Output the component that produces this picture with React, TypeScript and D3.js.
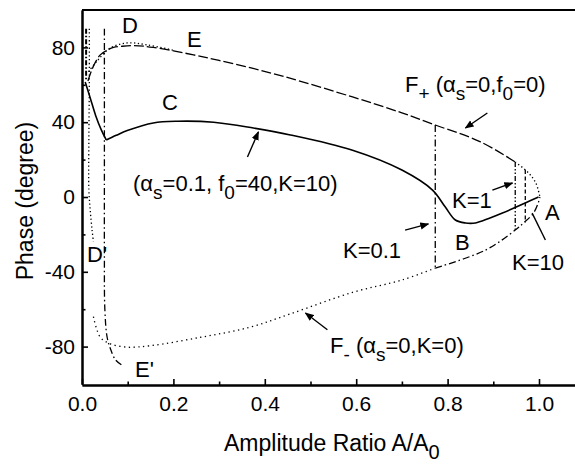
import React, { useRef, useEffect } from 'react'
import { scaleLinear, select, axisBottom, axisLeft, line, curveCatmullRom, format } from 'd3'

// curve C  (alpha_s=0.1, f0=40, K=10), solid: falling part then rising part
const cFallAmp = [0.007, 0.018, 0.03, 0.042, 0.053]
const cFallPhase = [61.5, 53, 43.5, 36, 30.5]
const cAmp = [0.053, 0.075, 0.099, 0.156, 0.209, 0.288, 0.375, 0.456, 0.592, 0.70, 0.767, 0.795, 0.817, 0.839, 0.861, 0.89, 0.92, 0.97, 0.999]
const cPhase = [30.5, 33, 35.5, 39.6, 40.5, 40, 36.9, 33.2, 25, 14.4, 3.7, -5.4, -12.3, -13.9, -13.9, -11.5, -8.6, -3.2, 0]

// F+ upper branch, dashed
const fPlusAmp = [0.013, 0.025, 0.04, 0.056, 0.069, 0.084, 0.112, 0.156, 0.244, 0.30, 0.37, 0.445, 0.592, 0.70, 0.773, 0.872, 0.948]
const fPlusPhase = [62, 70, 76, 78.6, 80, 80.5, 81, 80, 76, 73, 69, 64.2, 53.5, 45, 38.5, 29.5, 18.7]

// nose of F+, dotted
const noseAmp = [0.948, 0.975, 0.993, 1.002]
const nosePhase = [18.7, 13.4, 7.5, 0]

// D branch, dotted
const dTopAmp = [0.014, 0.034, 0.062, 0.099, 0.143, 0.2]
const dTopPhase = [67, 73, 79.7, 82.4, 81.3, 78.5]
const dVertAmp = [0.016, 0.016, 0.015, 0.015, 0.018, 0.022, 0.025]
const dVertPhase = [90, 60, 30, 4, -7, -17.6, -24]

// E' branch, dash-dot
const ePrimeAmp = [0.049, 0.049, 0.049, 0.049, 0.05, 0.055, 0.062, 0.073, 0.088]
const ePrimePhase = [90, 50, 10, -30, -60, -75, -81, -87, -90]

// F- lower branch, dotted then dash-dot
const fMinusAmp = [0.025, 0.04, 0.062, 0.099, 0.15, 0.26, 0.368, 0.456, 0.592, 0.70, 0.773]
const fMinusPhase = [-64, -75, -78.5, -80.3, -79.5, -75, -69.6, -62.5, -51, -44.4, -38]
const fMinusRAmp = [0.773, 0.883, 0.948, 0.966, 0.988, 0.999, 1.002]
const fMinusRPhase = [-38, -28.4, -17.7, -13.9, -8.6, -2.7, 0]

// jumps for K=0.1, K=1, K=10
const jumpAmp = [0.773, 0.948, 0.97]
const jumpTop = [38.5, 18.7, 14.4]
const jumpBottom = [-38, -17.7, -13.6]
const jumpDash = ['7 3 1.5 3', '5 2 1.5 2 1.5 2', '4 2.5']

// near-axis segment
const edgeAmp = [0.009, 0.009]
const edgePhase = [90, 63]

const xMajor = [0, 0.2, 0.4, 0.6, 0.8, 1.0]
const xMinor = [0.1, 0.3, 0.5, 0.7, 0.9]
const yMajor = [-80, -40, 0, 40, 80]
const yMinor = [-60, -20, 20, 60]

// annotation arrows: [tailAmp, tailPhase, headAmp, headPhase, head?]
const arrows: [number, number, number, number, boolean][] = [
  [0.362, 21.4, 0.386, 34.8, true],
  [0.887, 44.9, 0.839, 36.9, true],
  [0.898, 3.7, 0.942, 7.5, true],
  [0.707, -17.7, 0.758, -14.4, true],
  [1.014, -23, 0.985, -8.6, false],
  [0.537, -71, 0.489, -62, true],
]

const W = 575
const H = 464
const FONT = 'Liberation Sans, Arial, Helvetica, sans-serif'
const FS = 21
const FL = 22

const x = scaleLinear().domain([0, 1.1]).range([82, 82 + 457 * 1.1])
const y = scaleLinear().domain([-100, 100]).range([384, 10])

const zip = (a: number[], b: number[]) => a.map((v, i) => [v, b[i]] as [number, number])
const path = line<[number, number]>().x(d => x(d[0])).y(d => y(d[1])).curve(curveCatmullRom.alpha(0.5))

function Sub({ x: tx, y: ty, parts, fs = FL }: { x: number; y: number; parts: [string, boolean][]; fs?: number }) {
  return (
    <text x={tx} y={ty} fontFamily={FONT} fontSize={fs} fill="#000">
      {parts.map(([s, sub], i) =>
        sub ? (
          <tspan key={i} dy={8} fontSize={fs - 3}>{s}</tspan>
        ) : (
          <tspan key={i} dy={i > 0 && parts[i - 1][1] ? -8 : 0}>{s}</tspan>
        )
      )}
    </text>
  )
}

export default function App() {
  const gx = useRef<SVGGElement>(null)
  const gy = useRef<SVGGElement>(null)

  useEffect(() => {
    const ax = select(gx.current)
    ax.selectAll('*').remove()
    ax.append('g').call(axisBottom(x).tickValues(xMajor).tickSizeInner(-6).tickSizeOuter(0).tickPadding(11).tickFormat(format('.1f')) as any)
    ax.append('g').call(axisBottom(x).tickValues(xMinor).tickSizeInner(-3.5).tickSizeOuter(0).tickFormat(() => '') as any)
    ax.selectAll('.domain').attr('stroke-width', 2)
    ax.selectAll('text').attr('font-size', FS).attr('font-family', FONT).attr('fill', '#000')
    ax.selectAll('line').attr('stroke-width', 1.6)

    const ay = select(gy.current)
    ay.selectAll('*').remove()
    ay.append('g').call(axisLeft(y).tickValues(yMajor).tickSizeInner(-6).tickSizeOuter(0).tickPadding(7).tickFormat(d => String(d)) as any)
    ay.append('g').call(axisLeft(y).tickValues(yMinor).tickSizeInner(-3.5).tickSizeOuter(0).tickFormat(() => '') as any)
    ay.selectAll('.domain').attr('stroke-width', 2)
    ay.selectAll('text').attr('font-size', FS).attr('font-family', FONT).attr('fill', '#000')
    ay.selectAll('line').attr('stroke-width', 1.6)
  })

  const sw = 1.3
  return (
    <svg width={W} height={H} style={{ position: 'absolute', left: 0, top: 0, background: '#fff' }}>
      <defs>
        <marker id="ah" viewBox="0 0 10 10" refX="9" refY="5" markerWidth="9" markerHeight="9" orient="auto" markerUnits="userSpaceOnUse">
          <path d="M0,1 L10,5 L0,9 Z" fill="#000" />
        </marker>
      </defs>
      <rect width={W} height={H} fill="#fff" />

      {/* frame top */}
      <line x1={x(0)} x2={W} y1={y(100)} y2={y(100)} stroke="#000" strokeWidth={2} />

      <g fill="none" stroke="#000">
        <path d={path(zip(fPlusAmp, fPlusPhase)) || ''} strokeWidth={sw} strokeDasharray="10 3" />
        <path d={path(zip(noseAmp, nosePhase)) || ''} strokeWidth={sw} strokeDasharray="1.3 2.5" />
        <path d={path(zip(dTopAmp, dTopPhase)) || ''} strokeWidth={sw} strokeDasharray="1.3 2.5" />
        <path d={path(zip(dVertAmp, dVertPhase)) || ''} strokeWidth={sw} strokeDasharray="1.3 2.5" />
        <path d={path(zip(ePrimeAmp, ePrimePhase)) || ''} strokeWidth={sw} strokeDasharray="7 3 1.5 3" />
        <path d={path(zip(fMinusAmp, fMinusPhase)) || ''} strokeWidth={sw} strokeDasharray="1.3 3.5" />
        <path d={path(zip(fMinusRAmp, fMinusRPhase)) || ''} strokeWidth={sw} strokeDasharray="7 3 1.5 3" />
        <path d={path(zip(edgeAmp, edgePhase)) || ''} strokeWidth={2} strokeDasharray="5 2 1.5 2" />
        {jumpAmp.map((a, i) => (
          <line key={i} x1={x(a)} x2={x(a)} y1={y(jumpTop[i])} y2={y(jumpBottom[i])} strokeWidth={sw} strokeDasharray={jumpDash[i]} />
        ))}
        <path d={path(zip(cFallAmp, cFallPhase)) || ''} strokeWidth={1.6} />
        <path d={path(zip(cAmp, cPhase)) || ''} strokeWidth={1.6} />
        {arrows.map(([a0, p0, a1, p1, head], i) => (
          <line key={'a' + i} x1={x(a0)} y1={y(p0)} x2={x(a1)} y2={y(p1)} strokeWidth={1.4} markerEnd={head ? 'url(#ah)' : undefined} />
        ))}
      </g>

      <g ref={gx} transform={`translate(0,${y(-100) + 1})`} />
      <g ref={gy} transform={`translate(${x(0)},0)`} />

      {/* curve labels */}
      <Sub x={122} y={33} parts={[['D', false]]} />
      <Sub x={187} y={47} parts={[['E', false]]} />
      <Sub x={162} y={110} parts={[['C', false]]} />
      <Sub x={133} y={191} parts={[['(α', false], ['s', true], ['=0.1, f', false], ['0', true], ['=40,K=10)', false]]} />
      <Sub x={405} y={92} parts={[['F', false], ['+', true], [' (α', false], ['s', true], ['=0,f', false], ['0', true], ['=0)', false]]} />
      <Sub x={452} y={208} parts={[['K=1', false]]} />
      <Sub x={545} y={220} parts={[['A', false]]} />
      <Sub x={455} y={250} parts={[['B', false]]} />
      <Sub x={343} y={258} parts={[['K=0.1', false]]} />
      <Sub x={512} y={270} parts={[['K=10', false]]} />
      <Sub x={87} y={262} parts={[["D'", false]]} />
      <Sub x={135} y={377} parts={[["E'", false]]} />
      <Sub x={330} y={353} parts={[['F', false], ['-', true], [' (α', false], ['s', true], ['=0,K=0)', false]]} />

      {/* axis titles */}
      <Sub x={224} y={451} fs={23} parts={[['Amplitude Ratio A/A', false], ['0', true]]} />
      <text transform="translate(33,201) rotate(-90)" textAnchor="middle" fontFamily={FONT} fontSize={23} fill="#000">Phase (degree)</text>
    </svg>
  )
}
